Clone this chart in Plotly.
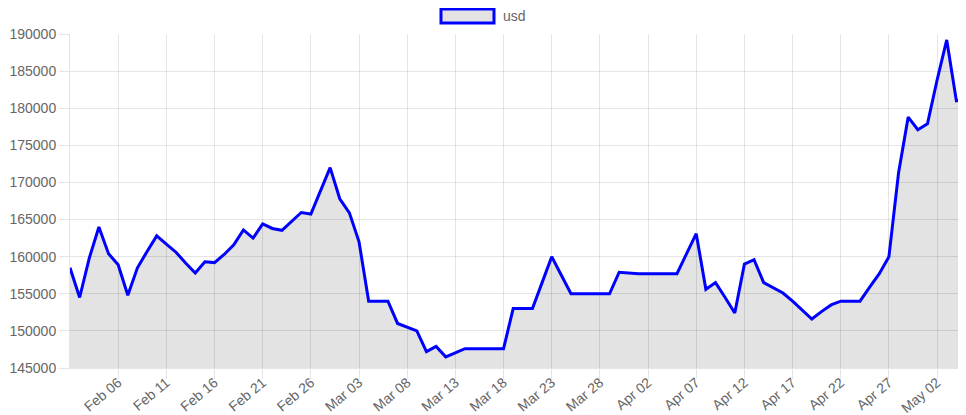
import plotly.graph_objects as go
import pandas as pd

start_date = "2023-02-01"
usd = [
    158500, 154500, 159800, 164000, 160400, 158900, 154800, 158500, 160700, 162800,
    161700, 160600, 159150, 157800, 159300, 159200, 160300, 161600, 163600, 162500,
    164400, 163800, 163550, 164700, 165950, 165750, 168800, 172000, 167800, 165900,
    162000, 154000, 154000, 154000, 151000, 150500, 150000, 147200, 147900, 146500,
    147050, 147600, 147600, 147600, 147600, 147600, 153000, 153000, 153000, 156500,
    160000, 157500, 155000, 155000, 155000, 155000, 155000, 157900, 157800, 157700,
    157700, 157700, 157700, 157700, 160400, 163100, 155600, 156500, 154500, 152400,
    159000, 159600, 156500, 155850, 155100, 154000, 152800, 151600, 152600, 153500,
    154000, 154000, 154000, 155900, 157700, 160000, 171300, 178800, 177100, 177900,
    183800, 189200, 181000, 181200,
]
dates = pd.date_range(start_date, periods=len(usd), freq="D")
x_tickvals = dates[5::5]

y_min, y_max, y_step = 145000, 190000, 5000

grid = "rgba(0,0,0,0.1)"
font_col = "#666666"

# page body has an 8px default margin; compensate so the plot area sits at
# x 70..966, y 34..368 in the window
OFF = 8
W, H = 966 - OFF, 415 - OFF
ML, MT, MR = 70 - OFF, 34 - OFF, 0
PH = 368 - 34
MB = H - MT - PH
PW = W - ML - MR

fig = go.Figure()
fig.add_trace(go.Scatter(
    x=dates, y=usd, mode="lines", name="usd",
    line=dict(color="#0000ff", width=3),
    fill="tozeroy", fillcolor="rgba(0,0,0,0.11)",
    showlegend=False, hoverinfo="x+y",
))

fig.update_layout(
    autosize=False,
    width=W, height=H,
    margin=dict(l=ML, r=MR, t=MT, b=MB, pad=0),
    paper_bgcolor="white", plot_bgcolor="white",
    font=dict(family="Liberation Sans, Arial, sans-serif", size=14, color=font_col),
    xaxis=dict(
        type="date", automargin=False,
        range=[dates[0], dates[-1]],
        tickmode="array", tickvals=list(x_tickvals),
        tickformat="%b %d", tickangle=-40,
        showgrid=True, gridcolor=grid, gridwidth=1,
        ticks="outside", ticklen=10, tickcolor=grid,
        ticklabelstandoff=-10,
        showline=True, linecolor=grid, linewidth=1,
        zeroline=False,
        tickfont=dict(size=14, color=font_col),
    ),
    yaxis=dict(
        automargin=False,
        range=[y_min, y_max], dtick=y_step, tick0=y_min,
        showgrid=True, gridcolor=grid, gridwidth=1,
        ticks="outside", ticklen=10, tickcolor=grid,
        showline=True, linecolor=grid, linewidth=1,
        zeroline=False, tickformat="d",
        tickfont=dict(size=14, color=font_col),
    ),
    shapes=[dict(
        type="rect", xref="paper", yref="paper",
        x0=(441 - 70) / PW, x1=(494 - 70) / PW,
        y0=1 + (34 - 23) / PH, y1=1 + (34 - 9) / PH,
        line=dict(color="#0000ff", width=3), fillcolor="#e3e3e3",
    )],
    annotations=[dict(
        text="usd", xref="paper", yref="paper",
        x=(501 - 70) / PW, y=1 + (34 - 16) / PH,
        xanchor="left", yanchor="middle", showarrow=False,
        font=dict(size=14, color=font_col),
    )],
)

fig.write_html("out.html")
